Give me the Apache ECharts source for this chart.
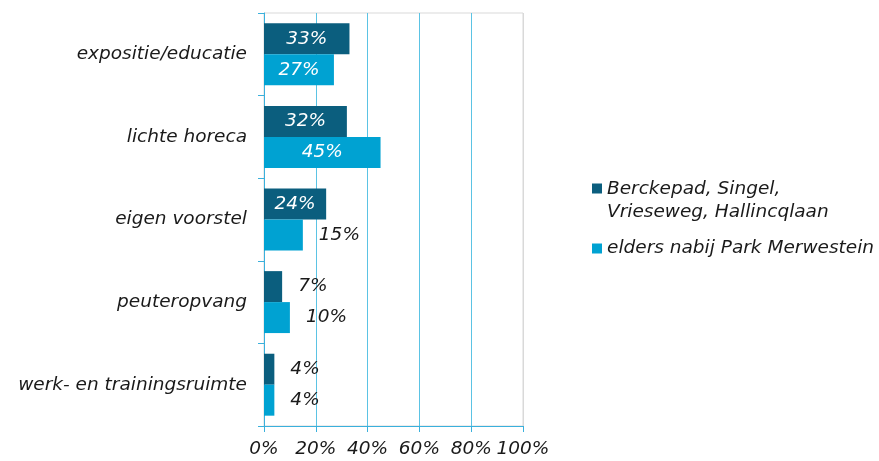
<!DOCTYPE html>
<html>
<head>
<meta charset="utf-8">
<script src="https://cdn.jsdelivr.net/npm/echarts@6/dist/echarts.min.js"></script>
<style>
html,body{margin:0;padding:0;background:#fff;}
#chart{width:879px;height:461px;}
</style>
</head>
<body>
<div id="chart"></div>
<script>
const categories = ['expositie/educatie', 'lichte horeca', 'eigen voorstel', 'peuteropvang', 'werk- en trainingsruimte'];
const seriesNames = ['Berckepad, Singel, Vrieseweg, Hallincqlaan', 'elders nabij Park Merwestein'];
const valuesBerckepad = [33, 32, 24, 7, 4];
const valuesElders = [27, 45, 15, 10, 4];
const xTicks = [0, 20, 40, 60, 80, 100];

const FONT = 'DejaVu Sans';
const FS = 18.5;
const colors = ['#0B5E7E', '#00A2D2'];

function buildData(vals) {
  return vals.map(v => v >= 20
    ? { value: v, label: { position: 'inside', color: '#ffffff' } }
    : { value: v, label: { position: 'right', distance: 16, color: '#1a1a1a' } });
}

const chart = echarts.init(document.getElementById('chart'), null, { renderer: 'canvas' });
const labelStyle = {
  show: true,
  fontFamily: FONT,
  fontStyle: 'italic',
  fontSize: FS,
  formatter: p => p.value + '%'
};

chart.setOption({
  animation: false,
  backgroundColor: '#ffffff',
  grid: {
    left: 264, top: 13, right: 356, bottom: 35,
    show: true, borderColor: '#d9d9d9', borderWidth: 1, backgroundColor: 'transparent'
  },
  legend: [
    {
      data: [{ name: seriesNames[0], icon: 'path://M0,0L10,0L10,10L0,10ZM10,35' }],
      left: 592, top: 178, padding: 0, orient: 'vertical',
      itemWidth: 10, itemHeight: 35,
      formatter: () => 'Berckepad, Singel,\nVrieseweg, Hallincqlaan',
      textStyle: { fontFamily: FONT, fontStyle: 'italic', fontSize: FS, lineHeight: 23, color: '#1a1a1a' }
    },
    {
      data: [{ name: seriesNames[1], icon: 'rect' }],
      left: 592, top: 237, padding: 0, orient: 'vertical',
      itemWidth: 10, itemHeight: 10,
      textStyle: { fontFamily: FONT, fontStyle: 'italic', fontSize: FS, lineHeight: 23, color: '#1a1a1a' }
    }
  ],
  xAxis: {
    type: 'value', min: 0, max: 100, interval: 20,
    axisLine: { show: true, lineStyle: { color: '#3AB0DC', width: 1 } },
    axisTick: { show: true, length: 6, lineStyle: { color: '#3AB0DC' } },
    axisLabel: { margin: 14, fontFamily: FONT, fontStyle: 'italic', fontSize: FS, color: '#1a1a1a', formatter: v => v + '%' },
    splitLine: { show: true, lineStyle: { color: ['#5BC3E4', '#5BC3E4', '#5BC3E4', '#5BC3E4', '#5BC3E4', '#d9d9d9'], width: 1 } }
  },
  yAxis: {
    type: 'category', data: categories, inverse: true,
    axisLine: { show: true, lineStyle: { color: '#3AB0DC', width: 1 } },
    axisTick: { show: true, length: 6, lineStyle: { color: '#3AB0DC' } },
    axisLabel: { margin: 17, fontFamily: FONT, fontStyle: 'italic', fontSize: FS, color: '#1a1a1a' },
    splitLine: { show: false }
  },
  series: [
    {
      name: seriesNames[0], type: 'bar', data: buildData(valuesBerckepad),
      itemStyle: { color: colors[0] }, barGap: '0%', barCategoryGap: '25%',
      label: labelStyle
    },
    {
      name: seriesNames[1], type: 'bar', data: buildData(valuesElders),
      itemStyle: { color: colors[1] }, barGap: '0%', barCategoryGap: '25%',
      label: labelStyle
    }
  ]
});
</script>
</body>
</html>
